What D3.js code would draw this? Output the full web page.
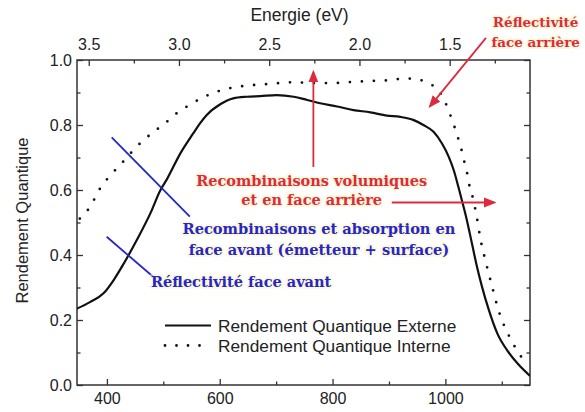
<!DOCTYPE html>
<html><head><meta charset="utf-8">
<script src="https://cdn.jsdelivr.net/npm/d3@7"></script>
<style>
html,body{margin:0;padding:0;background:#fff;}
svg{display:block;}
</style></head>
<body><svg id="chart" width="585" height="412"></svg>
<script>
// External quantum efficiency (solid curve): wavelength in nm, QE as fraction
const wavelengthExt = [347, 370, 394, 412, 430, 453, 477, 495, 506, 530, 553, 565, 577, 601, 624, 648, 672, 701, 731, 755, 778, 808, 837, 867, 896, 920, 944, 961, 979, 994, 1006, 1015, 1023, 1032, 1038, 1047, 1056, 1065, 1077, 1092, 1109, 1130, 1150];
const eqeValues = [0.235, 0.255, 0.282, 0.323, 0.374, 0.446, 0.528, 0.600, 0.632, 0.712, 0.774, 0.805, 0.831, 0.864, 0.882, 0.887, 0.889, 0.892, 0.887, 0.877, 0.867, 0.857, 0.846, 0.839, 0.829, 0.825, 0.815, 0.800, 0.779, 0.743, 0.702, 0.660, 0.610, 0.550, 0.508, 0.436, 0.364, 0.302, 0.231, 0.159, 0.108, 0.062, 0.028];

// Internal quantum efficiency (dotted curve)
const wavelengthInt = [352, 369, 388, 406, 425, 443, 462, 484, 505, 525, 547, 568, 586, 607, 630, 654, 684, 713, 734, 758, 799, 840, 861, 902, 926, 947, 967, 988, 1000, 1008, 1016, 1023, 1029, 1034, 1039, 1043, 1049, 1055, 1062, 1072, 1083, 1094, 1102, 1112, 1123, 1138, 1148];
const iqeValues = [0.512, 0.545, 0.605, 0.645, 0.680, 0.715, 0.749, 0.780, 0.808, 0.838, 0.862, 0.883, 0.897, 0.909, 0.917, 0.922, 0.926, 0.930, 0.932, 0.929, 0.929, 0.933, 0.935, 0.938, 0.943, 0.942, 0.930, 0.906, 0.869, 0.834, 0.795, 0.757, 0.721, 0.684, 0.648, 0.610, 0.574, 0.523, 0.451, 0.376, 0.302, 0.231, 0.192, 0.154, 0.118, 0.079, 0.062];

// Axis ticks
const wavelengthTicks = [400, 600, 800, 1000];
const wavelengthMinorTicks = [500, 700, 900, 1100];
const energyTicks = [3.5, 3.0, 2.5, 2.0, 1.5];
const energyMinorTicks = [3.25, 2.75, 2.25, 1.75, 1.25];
const qeTicks = [0, 0.2, 0.4, 0.6, 0.8, 1.0];
const qeMinorTicks = [0.1, 0.3, 0.5, 0.7, 0.9];

// Legend entries
const legendLabels = ["Rendement Quantique Externe", "Rendement Quantique Interne"];

const svg = d3.select("#chart");
const plotL = 77, plotR = 530, plotT = 60, plotB = 385;

const x = d3.scaleLinear().domain([347, 1150]).range([plotL, plotR]);
const xe = d3.scaleLinear().domain([3.565, 1.055]).range([plotL, plotR]);
const y = d3.scaleLinear().domain([0, 1]).range([plotB, plotT]);

const sans = "'Liberation Sans', Arial, sans-serif";
const serif = "'DejaVu Serif', serif";
const axisColor = "#333";
const red = "#dc2b3c";
const blue = "#2626c8";

function styleAxis(g, size) {
  g.select(".domain").remove();
  g.selectAll(".tick line").attr("stroke", axisColor).attr("stroke-width", 1.3);
  g.selectAll(".tick text").attr("fill", "#222").style("font-family", sans).style("font-size", size + "px");
}

// Bottom: wavelength
svg.append("g").attr("transform", `translate(0,${plotB})`)
  .call(d3.axisBottom(x).tickValues(wavelengthTicks).tickSize(-6).tickPadding(8).tickFormat(d3.format("d")))
  .call(g => styleAxis(g, 16));
svg.append("g").attr("transform", `translate(0,${plotB})`)
  .call(d3.axisBottom(x).tickValues(wavelengthMinorTicks).tickSize(-3.5).tickFormat(""))
  .call(g => styleAxis(g, 16));

// Top: photon energy
svg.append("g").attr("transform", `translate(0,${plotT})`)
  .call(d3.axisTop(xe).tickValues(energyTicks).tickSize(-6).tickPadding(10).tickFormat(d3.format(".1f")))
  .call(g => styleAxis(g, 16));
svg.append("g").attr("transform", `translate(0,${plotT})`)
  .call(d3.axisTop(xe).tickValues(energyMinorTicks).tickSize(-3.5).tickFormat(""))
  .call(g => styleAxis(g, 16));

// Left: quantum efficiency
svg.append("g").attr("transform", `translate(${plotL},0)`)
  .call(d3.axisLeft(y).tickValues(qeTicks).tickSize(-6).tickPadding(5).tickFormat(d3.format(".1f")))
  .call(g => styleAxis(g, 16));
svg.append("g").attr("transform", `translate(${plotL},0)`)
  .call(d3.axisLeft(y).tickValues(qeMinorTicks).tickSize(-3.5).tickFormat(""))
  .call(g => styleAxis(g, 16));

// Right: ticks only
svg.append("g").attr("transform", `translate(${plotR},0)`)
  .call(d3.axisRight(y).tickValues(qeTicks).tickSize(-6).tickFormat(""))
  .call(g => styleAxis(g, 16));
svg.append("g").attr("transform", `translate(${plotR},0)`)
  .call(d3.axisRight(y).tickValues(qeMinorTicks).tickSize(-3.5).tickFormat(""))
  .call(g => styleAxis(g, 16));

// Frame
svg.append("rect").attr("x", plotL).attr("y", plotT).attr("width", plotR - plotL).attr("height", plotB - plotT)
  .attr("fill", "none").attr("stroke", axisColor).attr("stroke-width", 1.5);

// Axis titles
svg.append("text").attr("x", (plotL + plotR) / 2 - 4).attr("y", 21)
  .attr("text-anchor", "middle").style("font-family", sans).style("font-size", "17.5px").attr("fill", "#222")
  .text("Energie (eV)");
svg.append("text").attr("transform", `translate(22,${(plotT + plotB) / 2 - 2}) rotate(-90)`)
  .attr("text-anchor", "middle").attr("dominant-baseline", "central")
  .style("font-family", sans).style("font-size", "16.5px").attr("fill", "#222")
  .text("Rendement Quantique");

// Curves
svg.append("clipPath").attr("id", "plotClip").append("rect")
  .attr("x", plotL).attr("y", plotT).attr("width", plotR - plotL).attr("height", plotB - plotT);

const ext = wavelengthExt.map((w, i) => [w, eqeValues[i]]);
const intr = wavelengthInt.map((w, i) => [w, iqeValues[i]]);
const line = d3.line().x(d => x(d[0])).y(d => y(d[1])).curve(d3.curveMonotoneX);

const plot = svg.append("g").attr("clip-path", "url(#plotClip)");
plot.append("path").datum(ext).attr("d", line)
  .attr("fill", "none").attr("stroke", "#111").attr("stroke-width", 2.2);
plot.append("path").datum(intr).attr("d", line)
  .attr("fill", "none").attr("stroke", "#111").attr("stroke-width", 2.8)
  .attr("stroke-linecap", "round").attr("stroke-dasharray", "0 12");

// Legend
const rowGap = 20;
const legend = svg.append("g").attr("transform", "translate(165,325.5)");
legend.append("line").attr("x1", 0).attr("x2", 46).attr("y1", 0).attr("y2", 0)
  .attr("stroke", "#111").attr("stroke-width", 1.8);
legend.append("line").attr("x1", 0).attr("x2", 46).attr("y1", rowGap).attr("y2", rowGap)
  .attr("stroke", "#111").attr("stroke-width", 2.8).attr("stroke-linecap", "round").attr("stroke-dasharray", "0 11.5");
legend.selectAll("text.lab").data(legendLabels).join("text").attr("class", "lab")
  .attr("x", 53).attr("y", (d, i) => i * rowGap).attr("dominant-baseline", "central")
  .style("font-family", sans).style("font-size", "17.3px").attr("fill", "#222")
  .text(d => d);

// Annotations (positioned in data units)
const defs = svg.append("defs");
function marker(id, color) {
  defs.append("marker").attr("id", id).attr("viewBox", "0 0 10 10").attr("refX", 8).attr("refY", 5)
    .attr("markerWidth", 7).attr("markerHeight", 7).attr("orient", "auto-start-reverse")
    .append("path").attr("d", "M0,1 L10,5 L0,9 z").attr("fill", color);
}
marker("arrRed", red);

function annLine(a, b, color, arrow) {
  const l = svg.append("line")
    .attr("x1", x(a[0])).attr("y1", y(a[1])).attr("x2", x(b[0])).attr("y2", y(b[1]))
    .attr("stroke", color).attr("stroke-width", 1.8);
  if (arrow) l.attr("marker-end", `url(#${arrow})`);
}
function annText(lines, at, color, size, gap) {
  const t = svg.append("text").attr("text-anchor", "middle")
    .style("font-family", serif).style("font-size", size + "px").style("font-weight", "600")
    .attr("fill", color).attr("stroke", "#fbf5c4").attr("stroke-width", 4).attr("stroke-opacity", 0.55)
    .attr("paint-order", "stroke").attr("stroke-linejoin", "round");
  lines.forEach((s, i) => {
    t.append("tspan").attr("x", x(at[0])).attr("y", y(at[1]) + i * gap)
      .attr("dominant-baseline", "central").text(s);
  });
}

// Rear reflectivity
annLine([1072, 1.068], [973, 0.858], red, "arrRed");
annText(["Réflectivité", "face arrière"], [1160, 1.117], red, 13.5, 20);

// Bulk and rear recombination
annLine([766, 0.671], [766, 0.962], red, "arrRed");
annLine([905, 0.5615], [1086, 0.5615], red, "arrRed");
annText(["Recombinaisons volumiques", "et en face arrière"], [763, 0.629], red, 14.5, 18.5);

// Front recombination and absorption
annLine([408.5, 0.762], [547, 0.518], blue);
annText(["Recombinaisons et absorption en", "face avant (émetteur + surface)"], [776, 0.483], blue, 14.6, 21);

// Front reflectivity
annLine([399.6, 0.456], [482, 0.333], blue);
annText(["Réflectivité face avant"], [638, 0.317], blue, 14.5, 0);
</script>
</body></html>
